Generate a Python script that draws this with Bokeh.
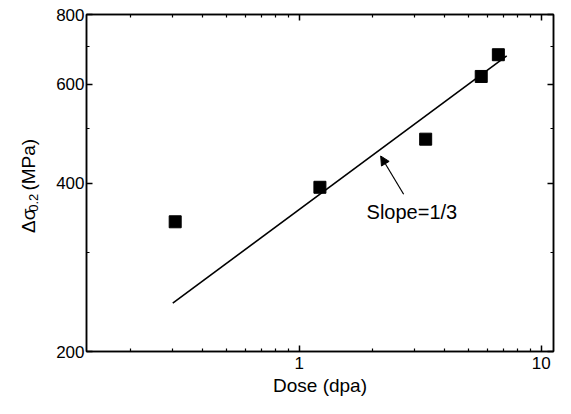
import math
from bokeh.plotting import figure
from bokeh.layouts import row
from bokeh.models import (LogAxis, FixedTicker, CustomJSTickFormatter, Label,
                          Arrow, NormalHead, Range1d)
from bokeh.core.properties import value
from bokeh.embed import file_html
from bokeh.resources import INLINE

# ---- data ----
dose = [0.307, 1.217, 3.33, 5.65, 6.65]
sigma = [341, 393, 479, 620, 678]
fit_dose = [0.30, 7.2]
fit_sigma = [244, 675]
x_major = [1, 10]
x_minor = [0.2, 0.3, 0.4, 0.5, 0.6, 0.7, 0.8, 0.9, 2, 3, 4, 5, 6, 7, 8, 9]
y_major = [200, 400, 600, 800]
y_minor = [300, 500, 700]
x_title = "Dose (dpa)"
y_title_parts = ["Δσ", "0.2", "(MPa)"]
slope_text = "Slope=1/3"
slope_text_pos = [1.897, 355]
arrow_tail = [2.70, 382]
arrow_tip = [2.17, 447]

FONT = "Liberation Sans"
W, H = 555, 398
LW = 45  # width of the strip that holds the y title

# ---- y title strip ----
t = figure(width=LW, height=H, x_range=Range1d(0, LW), y_range=Range1d(0, H),
           output_backend="svg", toolbar_location=None, title=None,
           min_border=0, outline_line_color=None)
t.axis.visible = False
t.grid.visible = False
ang = math.pi / 2
# pixel anchors inside the strip (bottom-up)
t.text(x=[28], y=[H - 258], text=[y_title_parts[0]], angle=ang,
       text_font=value(FONT), text_font_size="19px", text_align="left",
       text_baseline="middle", text_color="black")
t.text(x=[33], y=[H - 233], text=[y_title_parts[1]], angle=ang,
       text_font=value(FONT), text_font_size="13px", text_align="left",
       text_baseline="middle", text_color="black")
t.text(x=[28], y=[H - 208], text=[y_title_parts[2]], angle=ang,
       text_font=value(FONT), text_font_size="19px", text_align="left",
       text_baseline="middle", text_color="black")

# ---- main plot ----
p = figure(width=W - LW, height=H, x_axis_type="log", y_axis_type="log",
           x_range=Range1d(0.132, 11.24), y_range=Range1d(200, 800),
           output_backend="svg", toolbar_location=None,
           min_border_left=86 - LW, min_border_right=2, min_border_top=14,
           min_border_bottom=43)
p.grid.visible = False
p.outline_line_color = "black"
p.outline_line_width = 1.5

fmt = CustomJSTickFormatter(code="return tick.toString()")
blank = CustomJSTickFormatter(code="return ''")

def style(ax, ticker, labels=True):
    ax.ticker = ticker
    ax.axis_line_color = "black"
    ax.axis_line_width = 1.5
    ax.major_tick_in = 6
    ax.major_tick_out = 0
    ax.minor_tick_in = 3
    ax.minor_tick_out = 0
    ax.major_tick_line_width = 1.5
    ax.minor_tick_line_width = 1.2
    ax.major_label_text_font = FONT
    ax.major_label_text_font_size = "17px"
    ax.major_label_text_color = "black"
    if labels:
        ax.formatter = fmt
        ax.major_label_standoff = 3
    else:
        ax.formatter = blank
        ax.major_label_standoff = 0

style(p.xaxis[0], FixedTicker(ticks=x_major, minor_ticks=x_minor))
style(p.yaxis[0], FixedTicker(ticks=y_major, minor_ticks=y_minor))
p.xaxis[0].axis_label = x_title
p.xaxis[0].axis_label_text_font = FONT
p.xaxis[0].axis_label_text_font_size = "19px"
p.xaxis[0].axis_label_text_font_style = "normal"
p.xaxis[0].axis_label_text_color = "black"
p.xaxis[0].axis_label_standoff = 3
p.xaxis[0].major_label_standoff = 5
p.yaxis[0].axis_label = None
p.yaxis[0].major_label_standoff = 2

top = LogAxis()
style(top, FixedTicker(ticks=x_major, minor_ticks=x_minor), labels=False)
right = LogAxis()
style(right, FixedTicker(ticks=y_major, minor_ticks=y_minor), labels=False)
p.add_layout(top, "above")
p.add_layout(right, "right")

p.line(fit_dose, fit_sigma, line_color="black", line_width=1.6)
p.scatter(dose, sigma, marker="square", size=12, fill_color="black",
          line_color="black")

p.add_layout(Label(x=slope_text_pos[0], y=slope_text_pos[1], text=slope_text,
                   text_font=FONT, text_font_size="20px", text_align="left",
                   text_baseline="middle", text_color="black"))
p.add_layout(Arrow(end=NormalHead(size=9, fill_color="black", line_color="black"),
                   x_start=arrow_tail[0], y_start=arrow_tail[1],
                   x_end=arrow_tip[0], y_end=arrow_tip[1],
                   line_color="black", line_width=1.2))

layout = row(t, p, spacing=0)
open("out.html", "w").write(file_html(layout, INLINE))
